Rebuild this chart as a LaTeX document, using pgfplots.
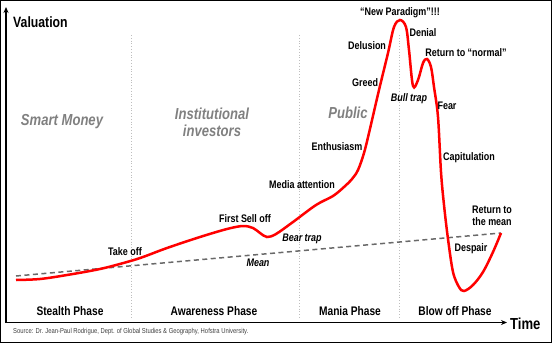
\documentclass[border=0pt]{standalone}
\usepackage{pgfplots}
\pgfplotsset{compat=1.18}
\usepackage{fontspec}
\setmainfont{Liberation Sans}
\newfontfamily\nf[FakeStretch=0.82]{Liberation Sans}
\usetikzlibrary{arrows.meta}
\definecolor{lblgray}{RGB}{128,128,128}
\definecolor{meangray}{RGB}{105,105,105}
\definecolor{vgray}{RGB}{190,190,190}
\newcommand{\fs}[1]{\fontsize{#1}{#1}\selectfont}
\begin{document}
\begin{tikzpicture}
\begin{axis}[
  scale only axis, width=552bp, height=343bp,
  xmin=0, xmax=552, ymin=0, ymax=343, y dir=reverse,
  hide axis, clip=false,
]
% frame
\addplot[black, line width=1bp] coordinates {(0.5,0.5)(551.5,0.5)(551.5,342.5)(0.5,342.5)(0.5,0.5)};
% phase separators
\addplot[vgray, dotted, line width=0.8bp] coordinates {(131,35)(131,318)};
\addplot[vgray, dotted, line width=0.8bp] coordinates {(299,35)(299,318)};
\addplot[vgray, dotted, line width=0.8bp] coordinates {(399,35)(399,318)};
% mean
\addplot[meangray, line width=1.5bp, dash pattern=on 5bp off 3.5bp] coordinates {(16,276)(501,233)};
% curve
\addplot[red, line width=2.5bp, smooth, tension=0.55] coordinates {
(16,280)(40,279)(67,275)(100,269)(127,262)(143,257)(167,248)(200,237)(227,229)(243,226)(253,228)(260,233)(267,237)(276,234)(293,222)(316,205)(333,196)(344,187)(352,179)(358,170)(364,153)(369,133)(379,90)(388,53)(394,27)(400,20)(406,27)(409,50)(413,86)(418,80)(423,63)(427,59)(431,67)(434,87)(438,117)(441,172)(444,205)(448,239)(453,272)(459,287)(464,291)(473,285)(483,272)(493,252)(501,233)};
% axes
\addplot[black, line width=1.6bp, -{Stealth[length=6bp,width=5bp]}] coordinates {(6,323)(6,7)};
\addplot[black, line width=1.6bp, -{Stealth[length=6bp,width=5bp]}] coordinates {(6,322.5)(507,322.5)};
% axis titles
\node[anchor=west, font=\nf\bfseries\fs{15}, inner sep=0] at (axis cs:13,22) {Valuation};
\node[anchor=west, font=\nf\bfseries\fs{16}, inner sep=0] at (axis cs:510,324) {Time};
% group labels
\node[font=\nf\bfseries\itshape\fs{16}, text=lblgray] at (axis cs:62,122) {Smart Money};
\node[font=\nf\bfseries\itshape\fs{16}, text=lblgray, align=center, inner sep=0] at (axis cs:212,122) {Institutional\\[1bp]investors};
\node[font=\nf\bfseries\itshape\fs{16}, text=lblgray] at (axis cs:348,113) {Public};
% phases
\node[font=\nf\bfseries\fs{12.5}] at (axis cs:70,311) {Stealth Phase};
\node[font=\nf\bfseries\fs{12.5}] at (axis cs:214,311) {Awareness Phase};
\node[font=\nf\bfseries\fs{12.5}] at (axis cs:350,311) {Mania Phase};
\node[font=\nf\bfseries\fs{12.5}] at (axis cs:455,311) {Blow off Phase};
% annotations
\node[font=\nf\bfseries\fs{11}] at (axis cs:125,252) {Take off};
\node[font=\nf\bfseries\fs{11}] at (axis cs:245,219) {First Sell off};
\node[font=\nf\bfseries\itshape\fs{11}] at (axis cs:258,263) {Mean};
\node[font=\nf\bfseries\itshape\fs{11}] at (axis cs:302,239) {Bear trap};
\node[font=\nf\bfseries\fs{11}] at (axis cs:302,185) {Media attention};
\node[font=\nf\bfseries\fs{11}] at (axis cs:337,147) {Enthusiasm};
\node[font=\nf\bfseries\fs{11}] at (axis cs:365,83) {Greed};
\node[font=\nf\bfseries\fs{11}] at (axis cs:367,46) {Delusion};
\node[font=\nf\bfseries\fs{11}] at (axis cs:400,13) {“New Paradigm”!!!};
\node[font=\nf\bfseries\fs{11}] at (axis cs:423,33) {Denial};
\node[font=\nf\bfseries\fs{11}] at (axis cs:466,53) {Return to “normal”};
\node[font=\nf\bfseries\itshape\fs{11}] at (axis cs:409,99) {Bull trap};
\node[font=\nf\bfseries\fs{11}] at (axis cs:447,106) {Fear};
\node[font=\nf\bfseries\fs{11}] at (axis cs:469,158) {Capitulation};
\node[font=\nf\bfseries\fs{11}, align=center, inner sep=0] at (axis cs:492,216) {Return to\\[1.5bp]the mean};
\node[font=\nf\bfseries\fs{11}] at (axis cs:471,249) {Despair};
% source
\node[anchor=west, font=\nf\fs{7.2}, text=black!75, inner sep=0] at (axis cs:13,332) {Source: Dr. Jean-Paul Rodrigue, Dept. of Global Studies \& Geography, Hofstra University.};
\end{axis}
\end{tikzpicture}
\end{document}
